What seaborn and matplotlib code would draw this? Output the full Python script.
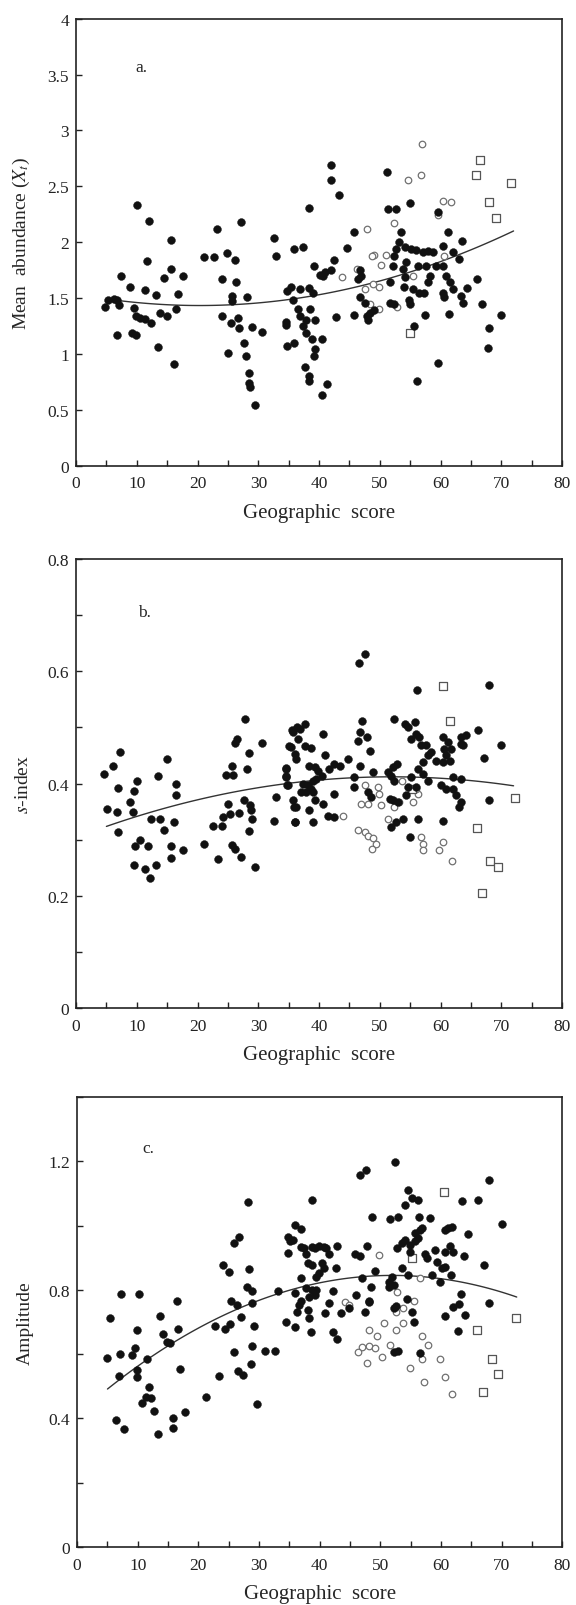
import numpy as np
import pandas as pd
import matplotlib
matplotlib.use("Agg")
import matplotlib.pyplot as plt
import seaborn as sns
from matplotlib.ticker import MultipleLocator, FuncFormatter

# ---- panel a: mean abundance ----
a_fill_x = [10.1, 12.0, 15.6, 11.7, 15.6, 14.5, 17.6, 7.4, 8.8, 11.3, 13.2, 16.7, 16.4, 13.9, 15.0,
            4.7, 5.3, 6.2, 7.0, 6.8, 9.6, 9.8, 10.6, 11.4, 12.4, 6.8, 9.2, 9.8, 13.5, 16.2,
            21.0, 22.7, 23.2, 27.2, 24.8, 26.2, 24.0, 26.4, 25.6, 25.7, 28.1, 24.1, 25.5, 26.6, 26.8,
            28.9, 30.6, 25.0, 27.7, 27.9, 28.5, 28.5, 28.7, 29.4, 32.5, 32.9, 35.8, 34.7, 35.4, 35.7,
            34.5, 34.6, 34.7, 35.9,
            41.9, 41.9, 43.3, 38.3, 51.2, 51.3, 52.7, 54.9, 59.5, 45.8, 44.6, 37.4, 39.2, 40.9, 40.6,
            41.9, 42.5, 40.1, 36.8, 38.4, 39.0,
            36.5, 36.9, 37.3, 37.8, 37.9, 38.5, 39.4, 38.8, 40.4, 39.3, 39.1, 37.7, 38.3, 38.4, 41.3,
            40.5, 42.7, 45.8,
            46.7, 46.9, 46.4, 46.7, 47.6, 47.9, 48.0, 48.4, 49.1, 52.1, 52.4, 52.7, 53.2, 53.5, 51.6,
            51.7, 52.4,
            54.1, 55.2, 56.0, 57.1, 57.9, 58.7, 54.3, 53.8, 54.1, 56.3, 57.6, 59.3, 60.4, 58.2, 57.9,
            53.9, 55.4, 56.5, 57.3, 54.8, 54.9,
            61.2, 62.0, 63.1, 63.5, 60.4, 60.9, 61.5, 62.0, 60.4, 60.6, 63.4, 63.7, 66.0, 64.4, 66.8,
            69.9, 67.9, 67.8, 57.5, 61.3, 55.6, 59.5, 56.1]
a_fill_y = [2.33, 2.19, 2.02, 1.83, 1.76, 1.68, 1.70, 1.70, 1.60, 1.57, 1.53, 1.54, 1.40, 1.37, 1.34,
            1.42, 1.48, 1.49, 1.44, 1.48, 1.41, 1.34, 1.32, 1.31, 1.28, 1.17, 1.19, 1.17, 1.06, 0.91,
            1.87, 1.87, 2.12, 2.18, 1.90, 1.84, 1.67, 1.64, 1.52, 1.47, 1.51, 1.34, 1.28, 1.32, 1.23,
            1.24, 1.20, 1.01, 1.10, 0.98, 0.83, 0.74, 0.70, 0.54, 2.04, 1.88, 1.94, 1.56, 1.60, 1.48,
            1.29, 1.26, 1.07, 1.10,
            2.69, 2.56, 2.42, 2.31, 2.63, 2.30, 2.30, 2.35, 2.27, 2.09, 1.95, 1.96, 1.79, 1.73, 1.70,
            1.75, 1.84, 1.71, 1.58, 1.59, 1.55,
            1.40, 1.34, 1.25, 1.19, 1.30, 1.40, 1.30, 1.13, 1.13, 1.04, 0.98, 0.88, 0.80, 0.76, 0.73,
            0.63, 1.33, 1.35,
            1.75, 1.70, 1.67, 1.51, 1.46, 1.34, 1.30, 1.37, 1.39, 1.79, 1.88, 1.94, 2.00, 2.09, 1.64,
            1.46, 1.45,
            1.96, 1.94, 1.93, 1.91, 1.92, 1.91, 1.82, 1.76, 1.69, 1.79, 1.79, 1.79, 1.79, 1.70, 1.64,
            1.60, 1.58, 1.55, 1.55, 1.48, 1.45,
            2.09, 1.91, 1.85, 2.01, 1.97, 1.70, 1.64, 1.58, 1.55, 1.51, 1.52, 1.46, 1.67, 1.59, 1.45,
            1.35, 1.23, 1.05, 1.35, 1.36, 1.25, 0.92, 0.76]
a_open_x = [56.9, 54.6, 56.7, 60.4, 61.7, 59.5, 47.9, 52.4, 49.0, 48.7, 50.2, 51.0, 43.8, 46.3,
            47.6, 48.9, 49.9, 48.3, 49.8, 52.8, 55.4, 60.6]
a_open_y = [2.88, 2.56, 2.60, 2.37, 2.36, 2.24, 2.12, 2.17, 1.89, 1.88, 1.80, 1.89, 1.69, 1.76,
            1.58, 1.63, 1.60, 1.45, 1.40, 1.42, 1.70, 1.88]
a_sq_x = [66.5, 65.8, 71.6, 68.0, 69.1, 55.0]
a_sq_y = [2.74, 2.60, 2.53, 2.36, 2.22, 1.19]
a_curve = [0.00025, -0.01017, 1.537]

# ---- panel b: s-index ----
b_fill_x = [4.6, 6.1, 7.2, 6.9, 5.1, 6.8, 6.9, 10.1, 9.6, 8.8, 9.4, 9.7, 10.5, 11.8, 9.6, 11.3,
            12.1, 13.2, 12.3, 13.9, 14.5, 13.5, 14.9, 16.5, 16.4, 16.2, 15.6, 15.6, 17.6, 21.1,
            22.6, 23.3, 24.0, 24.2, 25.0, 25.3, 26.9, 25.7, 26.2, 27.2, 27.7, 28.7, 28.8, 28.9,
            28.4, 29.4, 24.7, 25.8, 25.7, 28.1, 28.4, 26.1, 26.5, 27.8, 30.6, 32.5, 32.9, 34.8,
            34.5, 34.6, 35.3, 35.5, 36.4, 35.8, 36.1,
            46.5, 47.6, 56.1, 67.9, 47.1, 52.4, 54.1, 55.7, 54.6, 40.6,
            37.6, 36.8, 35.7, 36.5, 37.6, 38.7, 35.1, 36.0, 36.2, 40.9,
            42.5, 41.7, 43.4, 44.7, 38.4, 39.3, 39.8, 40.4, 39.5, 34.6,
            34.6, 34.7, 37.3, 38.2, 38.7, 39.0, 37.1, 37.9, 39.0, 35.7,
            36.2, 39.3, 40.6, 42.5, 38.4, 39.0, 41.4, 42.5, 36.0, 46.7,
            47.8, 46.4, 48.3, 46.7, 48.9, 45.8, 45.8, 48.0, 48.6, 51.3,
            52.1, 52.9, 51.9, 52.4, 51.6, 52.1, 53.0, 54.3, 55.2, 56.3,
            57.1, 57.9, 58.4, 57.6, 56.8, 56.5, 55.2, 56.0, 54.6, 56.0,
            57.1, 57.9, 59.3, 60.4, 61.5, 60.9, 60.6, 60.4, 61.2, 61.7,
            63.4, 64.2, 63.7, 63.4, 66.1, 67.1, 70.0, 62.0, 63.4, 60.1,
            60.9, 62.0, 62.6, 63.4, 63.1, 67.9, 60.4, 56.3, 54.9, 51.9,
            52.7, 53.8]
b_fill_y = [0.417, 0.432, 0.457, 0.392, 0.354, 0.349, 0.313, 0.404, 0.386, 0.367, 0.349, 0.289,
            0.300, 0.289, 0.254, 0.248, 0.231, 0.254, 0.337, 0.337, 0.318, 0.414, 0.444, 0.400,
            0.379, 0.332, 0.288, 0.267, 0.281, 0.293, 0.325, 0.265, 0.325, 0.340, 0.363, 0.346,
            0.347, 0.290, 0.284, 0.269, 0.371, 0.361, 0.352, 0.337, 0.315, 0.251, 0.416, 0.416,
            0.431, 0.426, 0.454, 0.472, 0.480, 0.515, 0.472, 0.334, 0.376, 0.397, 0.414, 0.427,
            0.465, 0.495, 0.501, 0.358, 0.331,
            0.614, 0.631, 0.566, 0.575, 0.512, 0.515, 0.506, 0.509, 0.500, 0.489,
            0.506, 0.497, 0.491, 0.479, 0.467, 0.464, 0.467, 0.453, 0.444, 0.450,
            0.435, 0.426, 0.432, 0.443, 0.432, 0.429, 0.423, 0.414, 0.408, 0.426,
            0.411, 0.397, 0.400, 0.397, 0.391, 0.405, 0.385, 0.385, 0.385, 0.370,
            0.358, 0.370, 0.364, 0.382, 0.352, 0.331, 0.343, 0.340, 0.331, 0.491,
            0.483, 0.475, 0.458, 0.432, 0.420, 0.411, 0.394, 0.385, 0.376, 0.420,
            0.429, 0.435, 0.414, 0.405, 0.373, 0.370, 0.367, 0.379, 0.411, 0.426,
            0.438, 0.450, 0.456, 0.468, 0.468, 0.483, 0.480, 0.489, 0.394, 0.394,
            0.417, 0.405, 0.441, 0.438, 0.441, 0.450, 0.462, 0.483, 0.474, 0.462,
            0.483, 0.486, 0.468, 0.471, 0.496, 0.446, 0.468, 0.411, 0.408, 0.397,
            0.391, 0.391, 0.379, 0.367, 0.358, 0.370, 0.334, 0.337, 0.305, 0.322,
            0.331, 0.337]
b_open_x = [43.9, 47.5, 49.7, 49.9, 50.2, 46.9, 48.0, 46.4, 47.5, 48.0, 48.9, 49.4, 48.7, 51.3,
            52.4, 53.2, 53.7, 56.3, 55.4, 56.8, 57.1, 57.1, 60.4, 59.7, 61.8, 56.0]
b_open_y = [0.343, 0.397, 0.394, 0.382, 0.361, 0.364, 0.364, 0.318, 0.313, 0.307, 0.303, 0.293,
            0.284, 0.336, 0.358, 0.367, 0.405, 0.382, 0.367, 0.304, 0.292, 0.281, 0.296, 0.281,
            0.262, 0.391]
b_sq_x = [60.4, 61.5, 55.3, 66.0, 68.2, 69.4, 66.8, 72.3]
b_sq_y = [0.574, 0.511, 0.390, 0.320, 0.262, 0.252, 0.205, 0.375]
b_curve = [-0.00004, 0.00416, 0.3038]

# ---- panel c: amplitude ----
c_fill_x = [28.1, 25.9, 26.7, 24.0, 25.1, 28.4, 28.0, 28.8, 33.2, 7.3,
            10.2, 16.4, 25.4, 26.3, 28.8, 5.4, 13.7, 27.0, 9.9, 16.6,
            14.1, 14.8, 15.3, 22.8, 24.4, 25.2, 29.2, 4.9, 7.1, 9.5,
            9.1, 11.5, 6.9, 9.8, 9.9, 17.0, 25.9, 28.9, 31.0, 32.7,
            28.6, 23.4, 26.6, 27.4, 11.8, 11.3, 12.1, 10.7, 12.6, 21.3,
            29.7, 6.4, 7.7, 13.4, 15.8, 15.8, 17.8, 34.8, 35.1, 35.6,
            35.9, 34.8, 34.5, 35.9, 35.9, 36.2,
            52.5, 46.7, 47.7, 38.7, 68.0, 54.6, 55.2, 56.3, 54.1, 63.4,
            66.1, 48.6, 51.6, 52.9, 56.4, 58.2, 70.1, 36.9, 36.9, 38.8,
            39.9, 40.7, 37.4, 37.7, 39.3, 41.0, 41.5, 42.9, 38.0, 38.8,
            40.4, 42.7, 40.7, 39.9, 37.0, 39.4, 37.7, 38.8, 39.3, 38.2,
            39.4, 37.0, 36.6, 38.1, 38.2, 38.5, 42.2, 42.9, 42.2, 41.5,
            40.8, 43.5, 44.9, 46.0, 47.4, 46.9, 48.2, 48.5, 47.8, 45.9,
            46.6, 49.1, 52.7, 53.6, 54.1, 54.9, 55.7, 56.3, 56.6, 56.8,
            55.7, 54.9, 57.4, 57.7, 59.0, 59.3, 60.6, 61.2, 61.8, 64.5,
            60.7, 61.5, 62.0, 60.7, 60.1, 63.8, 67.1, 51.4, 51.9, 53.6,
            54.6, 51.4, 52.2, 58.6, 59.8, 61.7, 54.4, 55.2, 55.5, 52.2,
            52.6, 48.1, 63.3, 62.0, 62.9, 64.0, 60.6, 62.8, 67.9, 52.2,
            53.0, 56.6]
c_fill_y = [1.072, 0.945, 0.966, 0.878, 0.857, 0.864, 0.810, 0.795, 0.795, 0.787,
            0.787, 0.764, 0.764, 0.753, 0.759, 0.713, 0.719, 0.715, 0.675, 0.679,
            0.663, 0.639, 0.635, 0.689, 0.679, 0.693, 0.689, 0.587, 0.599, 0.620,
            0.597, 0.584, 0.532, 0.552, 0.528, 0.553, 0.607, 0.625, 0.610, 0.610,
            0.569, 0.533, 0.547, 0.535, 0.497, 0.467, 0.464, 0.447, 0.424, 0.467,
            0.445, 0.395, 0.368, 0.353, 0.402, 0.371, 0.419, 0.966, 0.951, 0.956,
            1.003, 0.914, 0.699, 0.683, 0.789, 0.730,
            1.197, 1.158, 1.174, 1.079, 1.141, 1.112, 1.086, 1.079, 1.063, 1.075,
            1.080, 1.026, 1.019, 1.026, 1.027, 1.024, 1.006, 0.990, 0.932, 0.932,
            0.936, 0.934, 0.930, 0.911, 0.930, 0.930, 0.911, 0.938, 0.883, 0.878,
            0.883, 0.868, 0.867, 0.852, 0.836, 0.841, 0.805, 0.800, 0.784, 0.779,
            0.800, 0.764, 0.754, 0.738, 0.712, 0.670, 0.670, 0.647, 0.795, 0.759,
            0.727, 0.729, 0.745, 0.784, 0.732, 0.838, 0.766, 0.809, 0.936, 0.911,
            0.904, 0.859, 0.931, 0.945, 0.956, 0.940, 0.951, 0.961, 0.987, 0.992,
            0.977, 0.917, 0.911, 0.900, 0.924, 0.888, 0.985, 0.992, 0.997, 0.973,
            0.919, 0.935, 0.919, 0.872, 0.867, 0.904, 0.877, 0.826, 0.841, 0.867,
            0.846, 0.810, 0.815, 0.846, 0.826, 0.846, 0.772, 0.732, 0.699, 0.745,
            0.751, 0.763, 0.788, 0.748, 0.755, 0.722, 0.719, 0.672, 0.760, 0.608,
            0.610, 0.604]
c_open_x = [49.8, 56.6, 52.7, 44.2, 44.8, 55.6, 53.7, 52.6, 50.6, 52.6, 53.7, 48.1, 49.4, 48.2,
            47.0, 46.4, 47.8, 49.2, 50.3, 51.6, 56.8, 57.8, 56.9, 59.8, 54.9, 57.2, 60.7, 61.9]
c_open_y = [0.907, 0.836, 0.794, 0.761, 0.754, 0.764, 0.745, 0.732, 0.696, 0.675, 0.696, 0.675,
            0.656, 0.626, 0.623, 0.606, 0.571, 0.618, 0.590, 0.628, 0.655, 0.628, 0.585, 0.585,
            0.556, 0.514, 0.528, 0.475]
c_sq_x = [60.5, 55.2, 66.0, 68.4, 69.4, 66.9, 72.4]
c_sq_y = [1.103, 0.899, 0.675, 0.586, 0.537, 0.481, 0.711]
c_curve = [-0.00016, 0.01664, 0.41236]

sns.set_style("ticks")
plt.rcParams['font.family'] = ['Liberation Serif', 'DejaVu Serif']
plt.rcParams['mathtext.fontset'] = 'stix'

fig = plt.figure(figsize=(5.76, 16.06), dpi=100)

panels = [
    dict(fx=a_fill_x, fy=a_fill_y, ox=a_open_x, oy=a_open_y, sx=a_sq_x, sy=a_sq_y,
         curve=a_curve, cx=(5, 72), ylim=(0, 4), major=0.5, minor=0.5,
         ylabel=r"Mean  abundance ($X_t$)", tag="a.", tagpos=(10.7, 3.57),
         rect=[0.132, 0.7094, 0.844, 0.2783]),
    dict(fx=b_fill_x, fy=b_fill_y, ox=b_open_x, oy=b_open_y, sx=b_sq_x, sy=b_sq_y,
         curve=b_curve, cx=(5, 72), ylim=(0, 0.8), major=0.2, minor=0.1,
         ylabel=r"$s$-index", tag="b.", tagpos=(11.2, 0.705),
         rect=[0.132, 0.3717, 0.844, 0.2796]),
    dict(fx=c_fill_x, fy=c_fill_y, ox=c_open_x, oy=c_open_y, sx=c_sq_x, sy=c_sq_y,
         curve=c_curve, cx=(5, 72.5), ylim=(0, 1.4), major=0.4, minor=0.2,
         ylabel="Amplitude", tag="c.", tagpos=(11.8, 1.24),
         rect=[0.134, 0.0361, 0.842, 0.2802]),
]

for p in panels:
    ax = fig.add_axes(p["rect"])
    filled = pd.DataFrame({"x": p["fx"], "y": p["fy"]})
    opened = pd.DataFrame({"x": p["ox"], "y": p["oy"]})
    square = pd.DataFrame({"x": p["sx"], "y": p["sy"]})

    xs = np.linspace(p["cx"][0], p["cx"][1], 120)
    fit = pd.DataFrame({"x": xs, "y": np.polyval(p["curve"], xs)})
    sns.lineplot(data=fit, x="x", y="y", ax=ax, color="#333333", linewidth=1.0, zorder=1)

    sns.scatterplot(data=opened, x="x", y="y", ax=ax, marker="o", s=22,
                    color="#707070", facecolor="white", edgecolor="#707070",
                    linewidth=0.9, zorder=2)
    sns.scatterplot(data=square, x="x", y="y", ax=ax, marker="s", s=26,
                    color="#555555", facecolor="white", edgecolor="#555555",
                    linewidth=0.9, zorder=2)
    sns.scatterplot(data=filled, x="x", y="y", ax=ax, marker="o", s=32,
                    color="#111111", edgecolor="#111111", linewidth=0.3, zorder=3)

    ax.set_xlim(0, 80)
    ax.set_ylim(*p["ylim"])
    ax.xaxis.set_major_locator(MultipleLocator(10))
    ax.xaxis.set_minor_locator(MultipleLocator(5))
    ax.yaxis.set_major_locator(MultipleLocator(p["major"]))
    ax.yaxis.set_minor_locator(MultipleLocator(p["minor"]))
    ax.yaxis.set_major_formatter(FuncFormatter(lambda v, pos: f"{v:g}"))
    ax.tick_params(which="both", direction="in", length=4, width=1.0,
                   colors="#222222", labelsize=12.5, top=False, right=False)
    ax.tick_params(axis="x", which="both", pad=7)
    ax.tick_params(axis="y", which="both", pad=5)
    for sp in ax.spines.values():
        sp.set_visible(True)
        sp.set_color("#222222")
        sp.set_linewidth(1.2)

    ax.set_xlabel("Geographic  score", fontsize=15)
    ax.set_ylabel(p["ylabel"], fontsize=14)
    ax.xaxis.set_label_coords(0.5, -0.083)
    ax.yaxis.set_label_coords(-0.09, 0.5)
    ax.text(p["tagpos"][0], p["tagpos"][1], p["tag"], fontsize=12.5,
            ha="center", va="center")

fig.savefig("out.png", dpi=100)
